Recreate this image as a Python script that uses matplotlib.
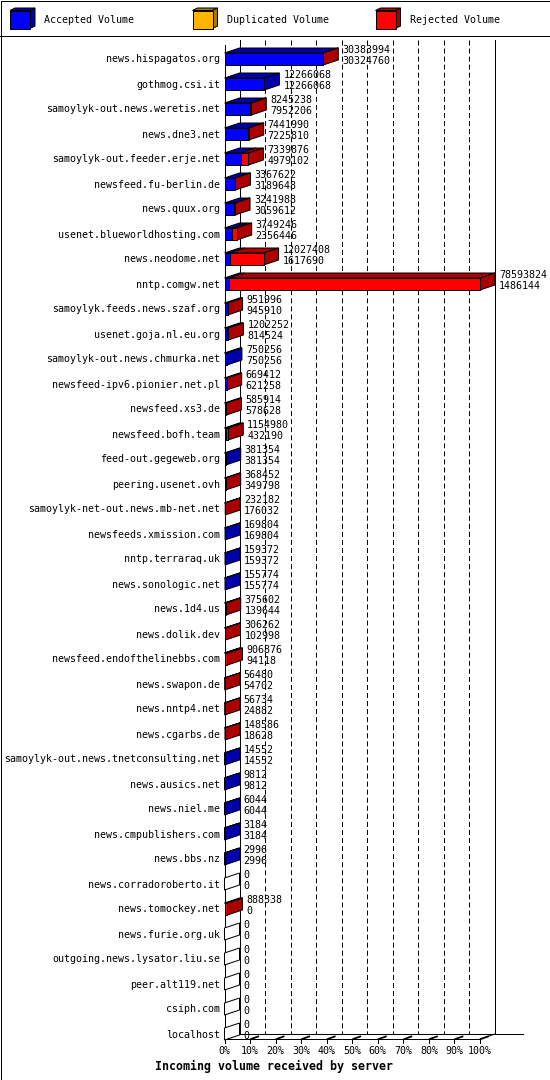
import matplotlib
matplotlib.use('Agg')
import numpy as np
import matplotlib.pyplot as plt
from matplotlib.patches import Polygon, Rectangle

servers = ['news.hispagatos.org', 'gothmog.csi.it', 'samoylyk-out.news.weretis.net',
           'news.dne3.net', 'samoylyk-out.feeder.erje.net', 'newsfeed.fu-berlin.de',
           'news.quux.org', 'usenet.blueworldhosting.com', 'news.neodome.net',
           'nntp.comgw.net', 'samoylyk.feeds.news.szaf.org', 'usenet.goja.nl.eu.org',
           'samoylyk-out.news.chmurka.net', 'newsfeed-ipv6.pionier.net.pl', 'newsfeed.xs3.de',
           'newsfeed.bofh.team', 'feed-out.gegeweb.org', 'peering.usenet.ovh',
           'samoylyk-net-out.news.mb-net.net', 'newsfeeds.xmission.com', 'nntp.terraraq.uk',
           'news.sonologic.net', 'news.1d4.us', 'news.dolik.dev',
           'newsfeed.endofthelinebbs.com', 'news.swapon.de', 'news.nntp4.net',
           'news.cgarbs.de', 'samoylyk-out.news.tnetconsulting.net', 'news.ausics.net',
           'news.niel.me', 'news.cmpublishers.com', 'news.bbs.nz',
           'news.corradoroberto.it', 'news.tomockey.net', 'news.furie.org.uk',
           'outgoing.news.lysator.liu.se', 'peer.alt119.net', 'csiph.com', 'localhost']

total_volume = [30383994, 12266068, 8245238, 7441990, 7339876, 3367622, 3241988, 3749246,
                12027408, 78593824, 951996, 1202252, 750256, 669412, 585914, 1154980,
                381354, 368452, 232182, 169804, 159372, 155774, 375602, 306262,
                906876, 56480, 56734, 148586, 14552, 9812, 6044, 3184, 2996,
                0, 888338, 0, 0, 0, 0, 0]
accepted_volume = [30324760, 12266068, 7952206, 7225810, 4979102, 3189648, 3059612, 2356446,
                   1617690, 1486144, 945910, 814524, 750256, 621258, 578628, 432190,
                   381354, 349798, 176032, 169804, 159372, 155774, 139644, 102998,
                   94118, 54702, 24882, 18628, 14552, 9812, 6044, 3184, 2996,
                   0, 0, 0, 0, 0, 0, 0]
duplicated_volume = [0, 0, 0, 0, 0, 0, 0, 0, 0, 0,
                     0, 0, 0, 0, 0, 0, 0, 0, 0, 0,
                     0, 0, 0, 0, 0, 0, 0, 0, 0, 0,
                     0, 0, 0, 0, 0, 0, 0, 0, 0, 0]
x_ticks = [0, 10, 20, 30, 40, 50, 60, 70, 80, 90, 100]

# colours (front, shaded)
ACC, ACC_D = '#0000ff', '#0000aa'
DUP, DUP_D = '#ffb400', '#aa7800'
REJ, REJ_D = '#ff0000', '#aa0000'

plt.rcParams['font.family'] = 'DejaVu Sans Mono'
plt.rcParams['lines.scale_dashes'] = False
LW = 0.72
FS = 7.2

fig = plt.figure(figsize=(5.5, 10.8), dpi=100)

# overlay in pixels for frame + legend
ov = fig.add_axes([0, 0, 1, 1])
ov.set_xlim(0, 550)
ov.set_ylim(1080, 0)
ov.axis('off')
ov.add_patch(Rectangle((0.5, 0.5), 549, 1079, fill=False, ec='black', lw=LW))
ov.plot([0, 550], [35.5, 35.5], color='black', lw=LW)


def cube(x, y, face, dark, w=20, h=18, dx=5, dy=2.5):
    ov.add_patch(Polygon([(x, y), (x + w, y), (x + w + dx, y - dy), (x + dx, y - dy)],
                         fc=dark, ec='black', lw=LW))
    ov.add_patch(Polygon([(x + w, y), (x + w, y + h), (x + w + dx, y + h - dy), (x + w + dx, y - dy)],
                         fc=dark, ec='black', lw=LW))
    ov.add_patch(Rectangle((x, y), w, h, fc=face, ec='black', lw=LW))


for tx, lab, c, d in [(44.5, 'Accepted Volume', ACC, ACC_D),
                      (227, 'Duplicated Volume', DUP, DUP_D),
                      (410, 'Rejected Volume', REJ, REJ_D)]:
    cube(tx - 34.5, 10.5, c, d)
    ov.text(tx, 20, lab, fontsize=FS, va='center', ha='left')

# main plot axes: front plane from x=224.5..480 px, y=45..1039 px
L, R, T, B = 224.5, 480.0, 45.0, 1039.0
ROW0, STEP = 59.0, 25.0
ax = fig.add_axes([L / 550, 1 - B / 1080, (R - L) / 550, (B - T) / 1080])
ax.set_zorder(2)
ax.axis('off')
ax.set_xlim(0, 100)
y_bot, y_top = (B - ROW0) / STEP, (T - ROW0) / STEP
ax.set_ylim(y_bot, y_top)

px_x = 100.0 / (R - L)
px_y = 1.0 / STEP
DX, DY = 15 * px_x, 5 * px_y
H = 6 * px_y

tot = np.array(total_volume, dtype=float)
acc = np.array(accepted_volume, dtype=float)
dup = np.array(duplicated_volume, dtype=float)
rej = tot - acc - dup
vmax = tot.max()
acc_p, dup_p, rej_p = acc / vmax * 100, dup / vmax * 100, rej / vmax * 100
rows = np.arange(len(servers))

# back wall lines
ax.plot([0, 0], [y_top, y_bot], color='black', lw=LW, clip_on=False)
ax.plot([DX, DX], [y_top - DY, y_bot - DY], color='black', lw=LW, clip_on=False)
ax.plot([100 + DX, 100 + DX], [y_top - DY, y_bot - DY], color='black', lw=LW, clip_on=False)
for p in x_ticks[1:-1]:
    ax.plot([p + DX, p + DX], [y_top - DY, y_bot - DY], color='black', lw=LW,
            dashes=(3.6, 2.2), clip_on=False)
ax.plot([0, 100], [y_bot, y_bot], color='black', lw=LW, clip_on=False)
ax.plot([DX, 111 + DX], [y_bot - DY, y_bot - DY], color='black', lw=LW, clip_on=False)
ax.plot([0, DX], [y_bot, y_bot - DY], color='black', lw=LW, clip_on=False)
ax.plot([100, 100 + DX], [y_bot, y_bot - DY], color='black', lw=LW, clip_on=False)
for p in x_ticks:
    ax.plot([p, p], [y_bot, y_bot + 4 * px_y], color='black', lw=LW, clip_on=False)
    ax.plot([p + 1 * px_x, p + 8 * px_x], [y_bot, y_bot - 2.5 * px_y], color='black',
            lw=1.3, clip_on=False)
    ax.annotate(f'{p}%', xy=(p, y_bot), xytext=(0, -12 * 0.72), textcoords='offset points',
                ha='center', va='center', fontsize=FS, annotation_clip=False)

# bars: front faces through barh, then shaded top and side faces
lefts = np.zeros(len(rows))
last_dark = ['white'] * len(rows)
for vals, face, dark in [(acc_p, ACC, ACC_D), (dup_p, DUP, DUP_D), (rej_p, REJ, REJ_D)]:
    for i in rows:
        if vals[i] > 0:
            x0, x1 = lefts[i], lefts[i] + vals[i]
            ax.add_patch(Polygon([(x0, i - H), (x1, i - H), (x1 + DX, i - H - DY), (x0 + DX, i - H - DY)],
                                 fc=dark, ec='black', lw=LW, zorder=3, clip_on=False))
            last_dark[i] = dark
    shown = vals > 0
    ax.barh(rows[shown], vals[shown], left=lefts[shown], height=2 * H, color=face,
            edgecolor='black', linewidth=LW, zorder=4, clip_on=False)
    lefts = lefts + vals

for i in rows:
    x1 = lefts[i]
    ax.add_patch(Polygon([(x1, i - H), (x1, i + H), (x1 + DX, i + H - DY), (x1 + DX, i - H - DY)],
                         fc=last_dark[i], ec='black', lw=LW, zorder=3, clip_on=False))
    ax.annotate(str(total_volume[i]), xy=(x1, i), xytext=(19 * 0.72, 9 * 0.72),
                textcoords='offset points', ha='left', va='center', fontsize=FS,
                zorder=5, annotation_clip=False)
    ax.annotate(str(accepted_volume[i]), xy=(x1, i), xytext=(19 * 0.72, -2 * 0.72),
                textcoords='offset points', ha='left', va='center', fontsize=FS,
                zorder=5, annotation_clip=False)
    ax.annotate(servers[i], xy=(0, i), xytext=(-4.5 * 0.72, -0.5 * 0.72),
                textcoords='offset points', ha='right', va='center', fontsize=FS,
                annotation_clip=False)

fig.text(273.7 / 550, 1 - 1066.7 / 1080, 'Incoming volume received by server',
         ha='center', va='center', fontsize=8.4, fontweight='bold')

fig.savefig('out.png', dpi=100, facecolor='white')
